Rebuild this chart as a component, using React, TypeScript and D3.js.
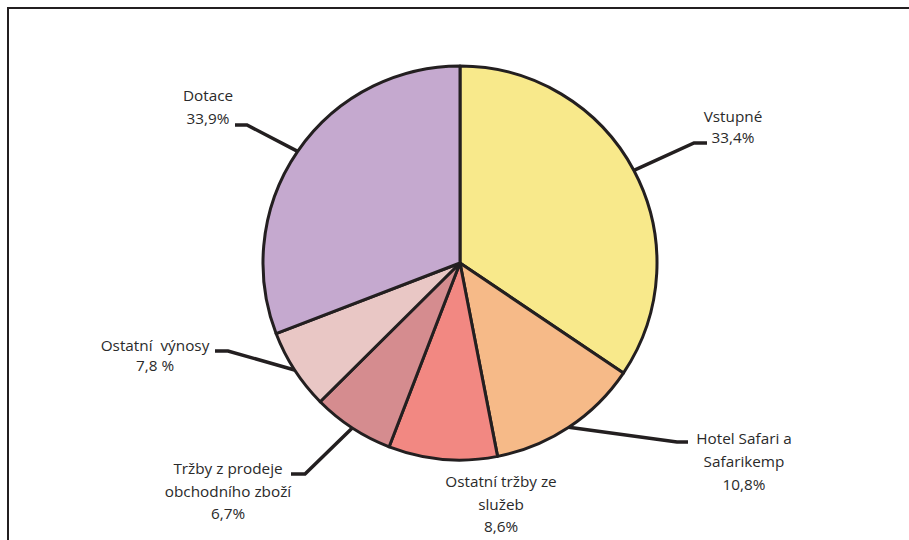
import React from "react"
import * as d3 from "d3"

// shares as drawn in the picture (angles), printed labels kept as text
const categories = [
  "Vstupné",
  "Hotel Safari a Safarikemp",
  "Ostatní tržby ze služeb",
  "Tržby z prodeje obchodního zboží",
  "Ostatní výnosy",
  "Dotace",
]
const shares = [34.4, 12.5, 8.9, 6.7, 6.6, 30.8]
const labelLines = [
  ["Vstupné", "33,4%"],
  ["Hotel Safari a", "Safarikemp", "10,8%"],
  ["Ostatní tržby ze", "služeb", "8,6%"],
  ["Tržby z prodeje", "obchodního zboží", "6,7%"],
  ["Ostatní  výnosy", "7,8 %"],
  ["Dotace", "33,9%"],
]
const colors = ["#f8e98b", "#f6ba88", "#f28882", "#d58c8f", "#e9c7c5", "#c5a9cf"]

// label placement: text centre x, first baseline y, line gap; leader elbow and tail end
const labelLayout = [
  { x: 733, y: 122, gap: 21, elbow: [694, 143], tail: [707, 143] },
  { x: 744, y: 444, gap: 23, elbow: [677, 442], tail: [688, 442] },
  { x: 501, y: 487, gap: 22.5, elbow: null, tail: null },
  { x: 228, y: 474, gap: 22.5, elbow: [305, 474], tail: [291, 474] },
  { x: 155, y: 351, gap: 20, elbow: [228, 351], tail: [215, 351] },
  { x: 208, y: 101, gap: 23, elbow: [247, 125], tail: [235, 125] },
]

const W = 909
const H = 540
const cx = 460
const cy = 263
const R = 197
const ink = "#231f20"

export default function App() {
  const pie = d3
    .pie<number>()
    .sort(null)
    .value((d) => d)
  const arcs = pie(shares)
  const arc = d3.arc<d3.PieArcDatum<number>>().innerRadius(0).outerRadius(R)

  return (
    <svg
      width={W}
      height={H}
      style={{ position: "absolute", left: 0, top: 0, background: "#fff" }}
      fontFamily="'Open Sans', sans-serif"
    >
      <path d={`M8,${H + 2} V8 H${W + 2}`} fill="none" stroke={ink} strokeWidth={2} />
      <g transform={`translate(${cx},${cy})`}>
        {arcs.map((a, i) => (
          <path
            key={categories[i]}
            d={arc(a) ?? ""}
            fill={colors[i]}
            stroke={ink}
            strokeWidth={3}
            strokeLinejoin="round"
          />
        ))}
      </g>
      {arcs.map((a, i) => {
        const lay = labelLayout[i]
        const mid = (a.startAngle + a.endAngle) / 2
        const sx = cx + Math.sin(mid) * R
        const sy = cy - Math.cos(mid) * R
        return (
          <g key={"lab" + i}>
            {lay.elbow && lay.tail && (
              <polyline
                points={`${sx},${sy} ${lay.elbow[0]},${lay.elbow[1]} ${lay.tail[0]},${lay.tail[1]}`}
                fill="none"
                stroke={ink}
                strokeWidth={3.5}
              />
            )}
            {labelLines[i].map((t, j) => (
              <text
                key={j}
                x={lay.x}
                y={lay.y + j * lay.gap}
                textAnchor="middle"
                fontSize={15.3}
                fill="#2a2a2a"
                style={{ whiteSpace: "pre" }}
              >
                {t}
              </text>
            ))}
          </g>
        )
      })}
    </svg>
  )
}
